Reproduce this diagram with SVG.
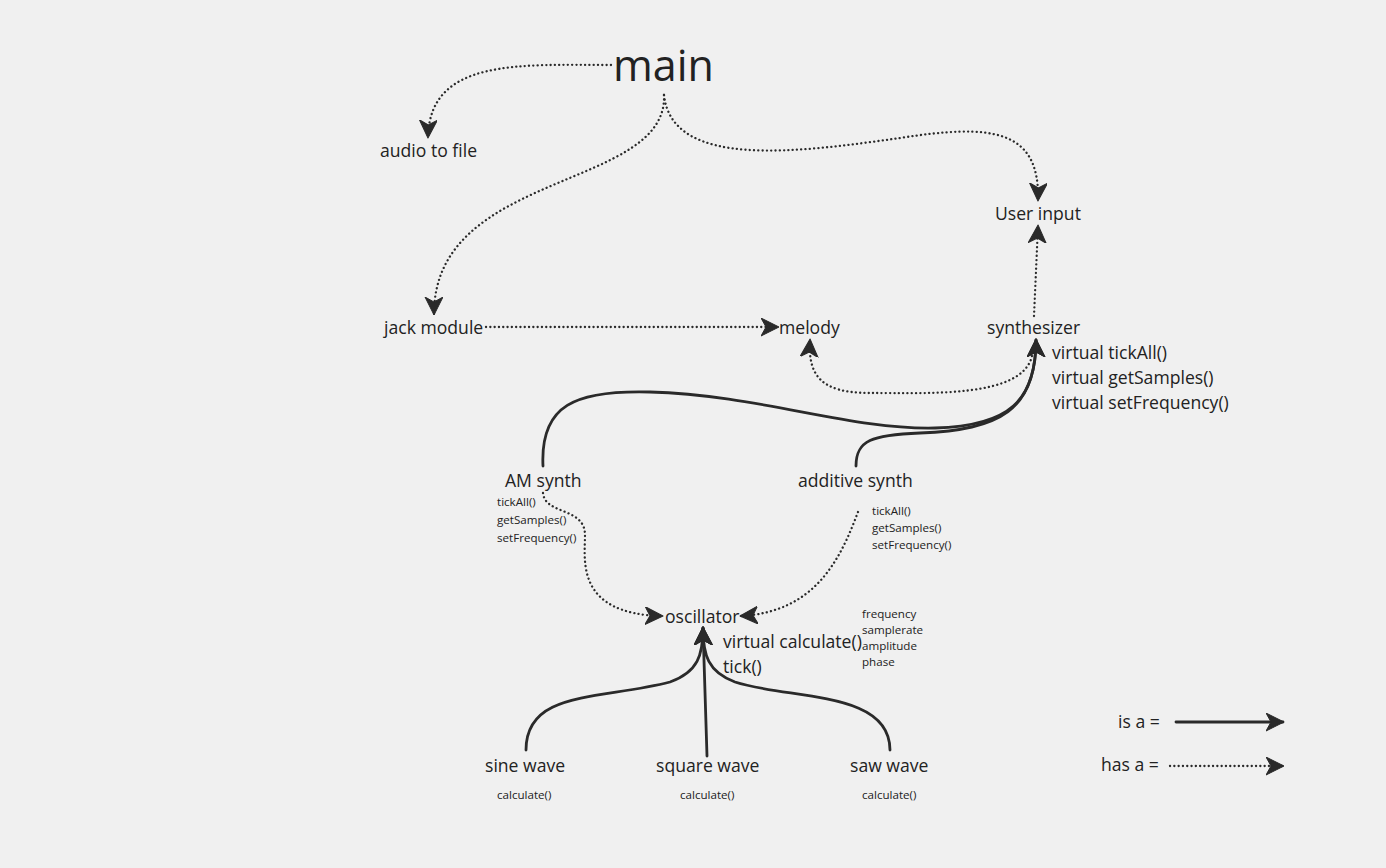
<svg xmlns="http://www.w3.org/2000/svg" width="1386" height="868" viewBox="0 0 1386 868">
<defs>
<style>
text{font-family:"Open Sans","Noto Sans","Liberation Sans",sans-serif;fill:#222;}
.t{font-size:17.6px;}
.s{font-size:11.6px;}
.big{font-size:43px;}
.solid{fill:none;stroke:#2a2a2a;stroke-width:2.8;stroke-linecap:round;}
.dot{fill:none;stroke:#2a2a2a;stroke-width:2.3;stroke-linecap:round;stroke-dasharray:0.1 4.2;}
</style>
<marker id="ah" markerUnits="userSpaceOnUse" markerWidth="22" markerHeight="22" refX="17" refY="9" orient="auto">
<path d="M0,0 L18,9 L0,18 L5,9 z" fill="#2a2a2a" stroke="#2a2a2a" stroke-width="1" stroke-linejoin="round"/>
</marker>
</defs>
<rect width="1386" height="868" fill="#f0f0f0"/>
<g id="connectors">
<path class="dot" marker-end="url(#ah)" d="M611,65 C 520,65 430,58 428,137"/>
<path class="dot" marker-end="url(#ah)" d="M664,95 C 668,190 434,170 434,314"/>
<path class="dot" marker-end="url(#ah)" d="M664,95 C 672,170 800,152 900,138 C 990,124 1040,128 1038,200"/>
<path class="dot" marker-end="url(#ah)" d="M1034,316 L1038,226"/>
<path class="dot" marker-end="url(#ah)" d="M486,327 L778,327"/>
<path class="dot" marker-end="url(#ah)" d="M1032,356 C 1022,398 930,393 870,393 C 820,393 808,375 810,340"/>
<path class="solid" marker-end="url(#ah)" d="M543,466 C 540,405 575,390 650,392 C 760,395 850,430 935,428 C 1010,426 1036,400 1036,340"/>
<path class="solid" marker-end="url(#ah)" d="M856,466 C 856,440 872,435 920,433 C 1000,430 1036,410 1036,340"/>
<path class="dot" marker-end="url(#ah)" d="M543,493 C 545,515 585,507 585,535 C 585,560 575,614 662,616"/>
<path class="dot" marker-end="url(#ah)" d="M858,512 C 840,560 815,612 741,616"/>
<path class="solid" marker-end="url(#ah)" d="M526,750 C 526,690 600,700 670,682 C 698,672 703,655 703,628"/>
<path class="solid" marker-end="url(#ah)" d="M707,756 L703,628"/>
<path class="solid" marker-end="url(#ah)" d="M890,750 C 890,690 790,700 735,682 C 708,672 703,655 703,628"/>
<path class="solid" marker-end="url(#ah)" d="M1176,722 L1283,722"/>
<path class="dot" marker-end="url(#ah)" d="M1170,766 L1283,766"/>
</g>
<g id="main"><text class="big" x="613" y="81">main</text></g>
<g id="audio-to-file"><text class="t" x="380" y="157">audio to file</text></g>
<g id="user-input"><text class="t" x="995" y="220">User input</text></g>
<g id="jack-module"><text class="t" x="384" y="334">jack module</text></g>
<g id="melody"><text class="t" x="779" y="334">melody</text></g>
<g id="synthesizer">
<text class="t" x="987" y="334">synthesizer</text>
<text class="t" x="1052" y="359">virtual tickAll()</text>
<text class="t" x="1052" y="384">virtual getSamples()</text>
<text class="t" x="1052" y="409">virtual setFrequency()</text>
</g>
<g id="am-synth">
<text class="t" x="505" y="487">AM synth</text>
<text class="s" x="497" y="506">tickAll()</text>
<text class="s" x="497" y="524">getSamples()</text>
<text class="s" x="497" y="542">setFrequency()</text>
</g>
<g id="additive-synth">
<text class="t" x="798" y="487">additive synth</text>
<text class="s" x="872" y="515">tickAll()</text>
<text class="s" x="872" y="532">getSamples()</text>
<text class="s" x="872" y="549">setFrequency()</text>
</g>
<g id="oscillator">
<text class="t" x="665" y="623">oscillator</text>
<text class="t" x="723" y="648">virtual calculate()</text>
<text class="t" x="723" y="673">tick()</text>
<text class="s" x="862" y="618">frequency</text>
<text class="s" x="862" y="634">samplerate</text>
<text class="s" x="862" y="650">amplitude</text>
<text class="s" x="862" y="666">phase</text>
</g>
<g id="sine-wave">
<text class="t" x="485" y="772">sine wave</text>
<text class="s" x="497" y="799">calculate()</text>
</g>
<g id="square-wave">
<text class="t" x="656" y="772">square wave</text>
<text class="s" x="680" y="799">calculate()</text>
</g>
<g id="saw-wave">
<text class="t" x="850" y="772">saw wave</text>
<text class="s" x="862" y="799">calculate()</text>
</g>
<g id="legend">
<text class="t" x="1118" y="728">is a =</text>
<text class="t" x="1101" y="771">has a =</text>
</g>
</svg>
